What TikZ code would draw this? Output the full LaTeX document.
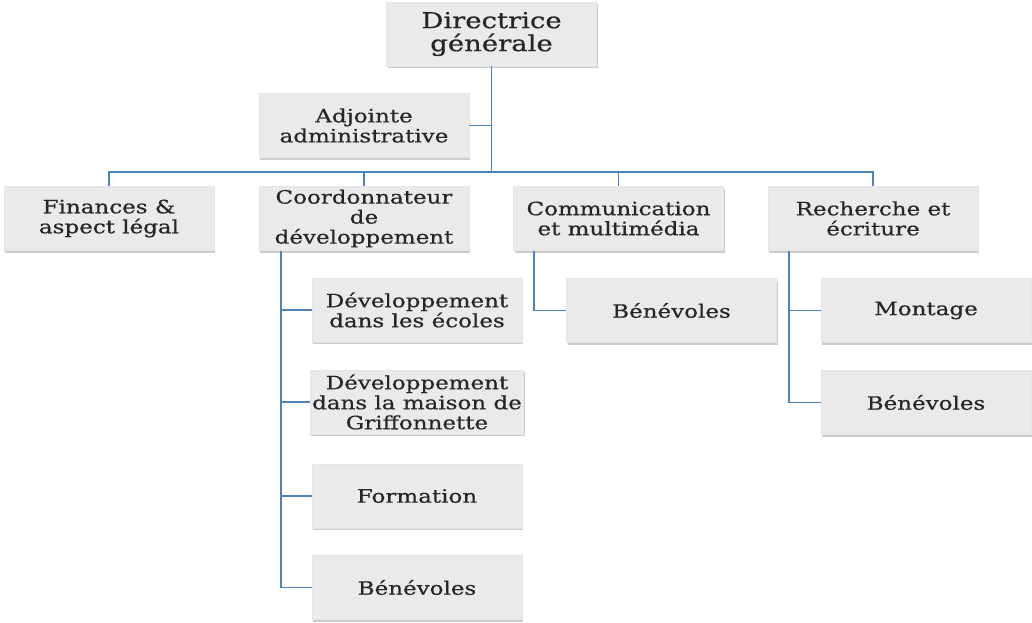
\documentclass[tikz,border=0pt]{standalone}
\usepackage{fontspec}
\setmainfont{DejaVu Serif}[FakeStretch=1.25,FakeBold=0.6]
\usetikzlibrary{calc,positioning,shadows}
\definecolor{linkblue}{RGB}{79,129,189}
\definecolor{boxgray}{RGB}{234,234,234}

\begin{document}
\begin{tikzpicture}[x=0.5pt,y=-0.5pt,
  unit/.style={draw=gray!20, fill=boxgray, minimum width=105pt, minimum height=32pt, inner sep=1pt, align=center, text=black!85, font=\fontsize{9.2}{10}\selectfont, drop shadow={shadow xshift=0.6pt, shadow yshift=-1pt, opacity=0.5, fill=gray!80}},
  head/.style={unit, font=\fontsize{11}{11.5}\selectfont},
  link/.style={draw=linkblue, line width=0.9pt}]
\useasboundingbox (0,0) rectangle (1032,622);

\node[head] (dir) at (491.5,34) {Directrice\\générale};
\node[unit] (adj) at (364,125.5) {Adjointe\\administrative};

\node[unit] (fin) at (109,218.5) {Finances \&\\aspect légal};
\node[unit] (coord) at (364,218.5) {Coordonnateur\\de\\développement};
\node[unit] (comm) at (618.5,218.5) {Communication\\et multimédia};
\node[unit] (rech) at (873,218.5) {Recherche et\\écriture};

\node[unit] (ecoles) at (417,310) {Développement\\dans les écoles};
\node[unit] (maison) at (417,402) {Développement\\dans la maison de\\Griffonnette};
\node[unit] (form) at (417,496) {Formation};
\node[unit] (bencoord) at (417,587.5) {Bénévoles};

\node[unit] (bencomm) at (671.5,310.5) {Bénévoles};

\node[unit] (mont) at (926,310.5) {Montage};
\node[unit] (benrech) at (926,402.5) {Bénévoles};

\coordinate (bus) at (0,172);
\coordinate (cspine) at (281,0);
\coordinate (mspine) at (534,0);
\coordinate (rspine) at (789,0);

\draw[link] (dir.south) -- (dir.south |- bus);
\draw[link] (adj.east) -- (adj.east -| dir.south);
\draw[link] (fin.north) -- (fin.north |- bus) -- (rech.north |- bus) -- (rech.north);
\foreach \n in {coord,comm}
  \draw[link] (\n.north) -- (\n.north |- bus);

\draw[link] (cspine |- coord.south) |- (bencoord.west);
\foreach \n in {ecoles,maison,form}
  \draw[link] (cspine |- \n.west) -- (\n.west);
\draw[link] (mspine |- comm.south) |- (bencomm.west);
\draw[link] (rspine |- rech.south) |- (benrech.west);
\draw[link] (rspine |- mont.west) -- (mont.west);
\end{tikzpicture}
\end{document}
